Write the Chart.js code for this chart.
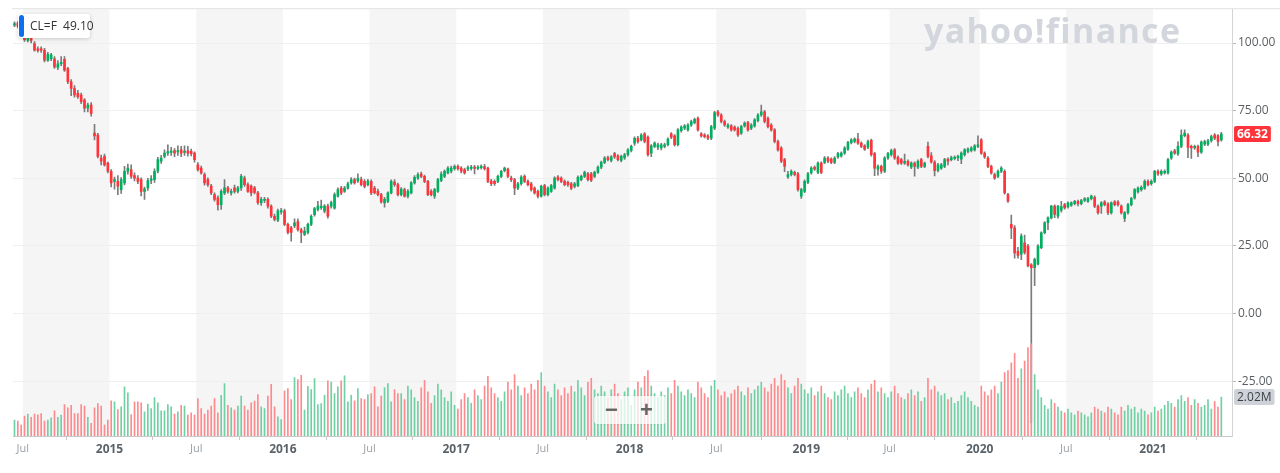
<!DOCTYPE html>
<html lang="en">
<head>
<meta charset="UTF-8" />
<title>CL=F weekly</title>
<script src="https://cdn.jsdelivr.net/npm/chart.js"></script>
<style>
  body { margin: 0; background: #fff; font-family: "Open Sans", Arial, sans-serif; }
  #wrap { position: relative; width: 1280px; height: 473px; overflow: hidden; }
  #wrap canvas { position: absolute; left: 0; top: 0; }
  .logo { position: absolute; left: 924px; top: 7px; font: 700 34px "Open Sans", sans-serif; color: #d3d7dd; letter-spacing: 1.3px; pointer-events: none; }
  .quote { position: absolute; left: 18px; top: 14px; width: 72px; height: 24px; background: #fff; border-radius: 3px;
           box-shadow: 0 1px 4px rgba(0,0,0,0.18); font-size: 12px; color: #333; line-height: 24px; box-sizing: border-box; padding-left: 12px; white-space: nowrap; }
  .quote::before { content: ""; position: absolute; left: 1px; top: 1px; width: 5px; height: 22px; background: #0f6ef0; border-radius: 3px; }
  .zoom { position: absolute; left: 594px; top: 396px; width: 72px; height: 28px; background: rgba(255,255,255,0.75); border-radius: 3px;
          box-shadow: 0 0 3px rgba(0,0,0,0.08); color: #666; font: 700 22px Arial, sans-serif; line-height: 27px; }
  .zoom span { position: absolute; top: 0; }
</style>
</head>
<body>
<div id="wrap">
  <canvas id="chart" width="1280" height="473"></canvas>
  <div class="logo">yahoo!finance</div>
  <div class="quote">CL=F&nbsp;&nbsp;49.10</div>
  <div class="zoom"><span style="left:11px">&minus;</span><span style="left:46px">+</span></div>
</div>
<script>
  // weekly candles, first week = 16 Jun 2014
  const firstWeek = Date.UTC(2014, 5, 16);
  const WEEK = 7 * 864e5;

  const opens = [
    106.6,107.4,106.0,102.6,101.0,102.2,99.8,97.9,97.9,97.3,
    93.6,94.2,94.2,91.0,92.4,94.0,90.6,85.7,83.2,81.4,
    80.8,78.9,75.9,77.1,66.7,66.0,57.5,58.1,55.6,52.6,
    48.9,48.9,45.8,48.3,52.6,53.2,51.0,50.1,49.5,45.2,
    46.5,49.2,49.5,52.6,56.3,58.1,59.3,59.6,60.3,59.8,
    60.5,59.6,60.2,60.0,59.3,55.0,53.8,51.4,49.5,47.1,
    44.0,42.8,40.3,44.6,46.5,44.6,46.5,45.2,46.5,50.1,
    47.7,47.1,46.5,44.6,40.9,41.8,42.2,39.7,36.0,34.5,
    37.6,38.0,33.0,31.7,32.4,34.0,31.0,29.3,30.0,33.0,
    36.6,38.5,39.2,37.9,39.7,39.7,39.0,43.4,46.4,45.2,
    46.4,48.3,49.5,49.0,49.5,48.9,47.7,48.9,46.4,45.2,
    44.0,40.9,41.5,44.6,48.6,47.7,44.0,45.8,43.4,44.6,
    48.3,50.1,51.6,50.7,48.9,45.2,43.4,45.2,49.2,50.7,
    52.0,52.6,53.6,54.4,53.8,53.2,53.4,53.7,54.2,53.7,
    53.9,54.3,53.8,49.0,48.9,48.9,50.7,52.8,53.4,50.1,
    49.5,46.4,48.0,50.7,48.9,48.0,46.4,45.2,43.4,47.3,
    44.0,45.2,46.4,50.5,50.1,48.9,48.5,48.0,47.0,47.3,
    49.5,50.7,51.7,51.7,50.7,52.2,54.1,55.9,57.7,56.6,
    59.1,58.3,56.6,57.5,58.7,60.3,63.0,64.8,64.2,66.4,
    65.2,59.3,61.8,61.5,61.2,61.8,62.4,66.4,65.7,62.4,
    67.6,68.5,67.9,69.7,70.6,72.2,66.4,66.0,65.7,64.8,
    68.5,74.6,73.4,71.0,68.9,69.4,68.9,68.5,66.7,69.4,
    70.6,68.5,69.4,71.3,73.4,74.6,72.2,69.7,67.9,63.6,
    61.2,56.9,50.5,51.4,52.2,51.7,43.4,45.2,48.5,52.0,
    54.1,52.2,55.6,55.9,57.5,57.1,55.9,57.9,58.3,59.3,
    60.8,63.2,63.6,64.5,63.0,62.0,61.5,64.0,59.1,53.4,
    54.4,52.6,57.5,58.7,60.5,57.8,56.9,55.6,56.3,54.1,
    55.6,54.1,56.9,54.4,61.8,58.3,56.0,52.9,53.8,54.4,
    57.1,56.9,57.4,57.5,57.1,58.7,59.9,60.3,60.5,61.8,
    64.2,59.3,57.5,54.4,51.4,50.7,52.6,52.6,44.0,33.0,
    31.7,23.0,22.0,26.2,25.0,18.0,17.0,18.3,24.4,29.9,
    33.6,35.4,39.7,36.0,38.2,40.3,39.4,40.1,40.6,41.5,
    40.6,41.8,41.5,42.5,43.0,39.7,39.7,41.3,40.6,37.3,
    41.3,41.3,39.7,35.2,37.3,40.3,42.8,45.0,45.8,46.4,
    48.9,48.0,48.9,52.6,51.6,52.0,52.0,57.5,60.2,59.0,
    61.8,65.8,66.0,61.8,61.2,61.8,59.7,62.6,62.6,63.9,
    66.0,65.8,64.2
  ];
  const highs = [
    107.8,107.9,106.5,104.0,102.8,103.0,100.5,98.6,98.6,98.0,
    96.6,96.2,95.0,93.5,95.0,95.0,91.0,86.5,84.3,82.5,
    81.5,79.5,77.8,78.0,70.0,66.6,58.6,59.0,56.0,53.2,
    50.5,51.0,50.3,54.4,55.3,55.0,52.0,51.0,50.2,46.8,
    50.0,51.0,53.5,57.8,58.5,60.5,62.4,61.5,61.0,62.0,
    61.8,62.0,61.8,60.8,59.8,55.8,54.5,52.0,50.2,47.8,
    44.6,43.5,45.8,49.5,47.0,46.0,47.5,47.0,51.5,50.8,
    48.3,47.6,47.0,45.2,43.0,43.0,42.8,40.2,36.8,38.6,
    38.9,38.6,33.5,32.3,35.0,35.0,31.6,32.0,33.5,36.5,
    39.3,41.5,42.0,40.3,40.5,41.6,44.6,46.5,47.0,47.0,
    48.6,50.3,50.1,51.7,50.5,49.5,49.6,49.4,47.0,46.0,
    44.5,43.0,45.0,49.4,49.5,48.2,46.6,46.4,45.8,48.8,
    51.0,52.0,52.3,51.2,49.3,45.8,46.3,50.0,52.4,53.1,
    54.3,54.5,55.0,55.0,54.3,53.8,54.6,54.8,54.8,54.7,
    55.0,55.2,54.2,49.6,49.4,51.2,53.0,54.2,53.8,50.8,
    50.0,48.5,51.0,51.3,49.4,48.5,46.9,45.7,47.5,47.8,
    46.9,47.8,50.6,51.0,50.6,49.4,49.0,48.5,48.5,50.9,
    51.2,52.7,52.2,52.2,52.7,54.6,56.4,58.0,58.2,58.4,
    59.6,58.8,58.6,59.2,61.0,62.3,65.3,65.5,66.5,66.9,
    65.7,62.5,63.5,63.0,62.9,63.0,65.0,66.9,66.2,68.4,
    69.4,69.9,70.2,71.5,72.3,72.7,66.9,66.5,66.2,69.6,
    74.8,75.1,73.9,71.5,70.2,69.9,69.4,69.0,69.6,70.9,
    71.1,70.2,72.1,73.9,77.1,75.1,72.7,70.2,68.4,64.1,
    61.7,57.4,52.6,53.1,52.7,52.2,46.3,49.4,52.2,54.3,
    54.6,56.1,56.1,58.0,58.0,57.6,58.0,59.6,59.8,61.7,
    63.7,64.7,65.0,66.6,63.5,62.5,64.1,64.5,59.6,55.0,
    54.9,58.0,59.6,60.8,61.0,58.3,57.4,59.0,56.8,56.1,
    56.1,56.8,57.4,56.0,63.4,59.5,56.6,55.5,55.5,57.4,
    57.6,58.2,58.3,58.6,59.8,61.0,61.3,61.7,62.5,65.7,
    64.7,59.8,58.0,54.9,51.9,53.1,54.3,53.1,44.5,36.4,
    32.5,24.5,29.5,29.0,25.6,18.5,20.5,25.5,30.2,34.0,
    35.8,40.0,40.2,40.0,41.5,40.8,41.3,41.3,41.9,42.0,
    42.2,42.9,43.0,43.8,43.5,40.2,41.4,41.8,41.0,41.3,
    41.8,41.8,40.2,37.7,40.8,43.0,46.2,46.9,47.2,49.4,
    49.4,49.4,53.0,53.1,53.1,53.1,57.4,60.2,60.7,63.5,
    67.9,67.9,66.5,62.3,62.3,62.3,63.9,64.1,64.4,66.0,
    66.5,66.2,67.0
  ];
  const lows = [
    106.0,105.6,103.4,100.6,100.4,100.0,97.0,96.6,96.5,93.0,
    93.2,93.5,90.6,90.2,91.6,89.5,85.0,80.5,80.0,79.5,
    77.6,74.5,74.5,73.0,64.2,57.5,55.0,54.5,52.0,46.8,
    46.0,44.0,44.4,47.6,51.5,50.0,49.0,48.0,43.5,42.2,
    45.5,48.0,48.5,52.0,55.5,57.5,58.5,58.5,58.0,58.5,
    58.0,58.5,58.2,58.3,56.0,52.6,51.5,47.5,47.0,44.0,
    41.6,38.2,38.5,44.0,44.5,43.8,44.5,44.6,45.5,47.0,
    44.8,43.5,44.2,40.4,40.0,41.0,39.0,35.5,34.3,34.0,
    36.8,32.5,29.5,26.8,31.8,30.5,26.2,28.8,29.5,32.5,
    36.0,38.0,38.5,37.2,35.3,39.0,38.6,43.0,44.0,44.8,
    46.0,47.8,47.8,48.5,47.2,46.5,47.2,44.0,44.2,43.5,
    40.8,39.3,41.0,44.2,47.0,43.5,43.5,43.0,42.8,44.2,
    47.8,49.6,50.2,48.4,43.6,43.5,42.6,44.8,48.8,50.2,
    51.6,52.0,53.0,53.0,52.0,51.5,52.8,53.0,51.6,53.2,
    53.4,53.0,48.4,47.3,47.4,48.4,50.2,52.4,50.2,48.8,
    44.0,45.8,47.5,48.4,47.2,45.3,44.1,42.8,43.0,43.5,
    43.5,44.8,46.0,49.0,48.4,47.2,47.0,45.8,46.5,46.9,
    49.0,50.2,49.0,48.8,50.2,51.8,53.6,55.4,56.4,56.1,
    57.4,56.4,56.1,57.0,58.2,59.8,62.2,63.0,63.8,63.1,
    58.2,58.0,61.3,60.6,60.5,61.2,62.0,64.7,61.9,62.0,
    67.1,68.0,67.4,69.2,70.1,67.4,65.2,64.9,64.3,64.3,
    68.0,72.9,70.5,69.2,68.4,67.4,67.4,65.5,66.2,68.9,
    67.4,68.0,68.9,70.8,72.9,70.5,68.6,67.4,63.1,60.0,
    55.8,52.5,50.0,50.9,50.9,45.3,42.6,44.7,48.0,51.5,
    52.9,51.7,51.7,55.4,55.8,55.4,55.4,57.4,57.8,58.8,
    60.3,62.7,63.1,62.5,61.3,60.3,61.0,58.2,51.0,51.2,
    51.8,52.1,57.0,58.2,57.0,55.1,55.1,55.1,54.5,53.6,
    50.8,53.6,53.9,53.9,57.5,55.6,50.9,52.4,53.3,53.9,
    55.0,56.4,56.8,56.5,55.4,58.2,59.4,59.8,60.0,61.3,
    58.8,57.4,53.9,51.5,49.6,50.2,52.1,44.1,41.1,27.7,
    20.5,20.5,19.9,22.0,17.3,-40.3,10.3,18.0,24.0,29.5,
    31.0,35.0,35.5,35.3,37.5,38.6,39.0,39.6,40.2,39.8,
    40.2,41.4,41.1,42.0,39.2,36.8,37.0,39.8,36.6,36.8,
    39.8,39.7,36.8,34.0,36.8,39.8,42.3,44.5,45.3,45.9,
    47.2,47.5,48.4,51.1,51.1,51.5,51.5,57.0,58.8,58.5,
    61.3,65.3,57.6,57.4,60.7,58.0,59.2,62.1,62.1,63.4,
    64.3,62.0,63.7
  ];
  const closes = [
    107.2,106.2,104.0,101.2,101.8,101.0,97.4,97.3,97.4,93.7,
    95.8,95.6,91.2,92.3,92.9,90.0,85.7,83.2,80.8,80.2,
    78.3,75.9,77.1,74.0,65.7,58.1,56.3,55.0,52.6,48.3,
    49.5,47.1,49.5,52.6,53.8,50.7,50.1,48.9,45.2,46.1,
    49.2,49.8,52.6,56.9,57.5,59.3,59.9,60.1,59.3,60.3,
    59.3,60.1,59.3,59.1,56.9,53.2,52.0,48.3,47.7,44.6,
    42.2,40.3,45.2,46.5,45.2,45.2,45.2,46.5,50.7,47.7,
    45.2,44.6,44.8,41.0,42.2,42.2,39.7,36.0,34.8,38.0,
    38.1,33.0,30.0,30.0,33.6,31.0,30.0,30.5,33.0,36.0,
    38.8,39.7,39.7,39.7,36.0,41.0,44.0,45.8,44.6,46.4,
    48.0,49.5,48.3,50.0,47.7,47.0,49.0,44.6,44.6,44.0,
    41.3,42.2,44.6,48.9,47.7,44.0,46.0,43.4,45.2,48.3,
    50.4,51.4,50.7,48.9,44.0,44.0,45.8,49.5,51.6,52.6,
    53.8,53.8,54.4,53.6,52.6,52.0,54.0,54.2,53.7,54.2,
    54.4,53.6,48.9,48.0,48.0,50.7,52.6,53.8,50.7,49.5,
    46.4,48.0,50.5,48.9,47.7,45.8,44.6,43.4,47.0,44.0,
    46.4,47.3,50.1,49.5,48.9,47.7,47.7,46.4,48.0,50.4,
    50.7,52.2,49.5,49.3,52.2,54.1,55.9,57.5,56.9,57.9,
    57.9,56.9,58.1,58.7,60.5,61.8,64.8,63.6,66.0,63.6,
    58.7,62.0,63.0,62.4,62.4,62.4,64.5,65.2,62.4,67.9,
    68.9,69.4,69.7,71.0,71.8,67.9,65.7,65.4,64.8,69.1,
    74.3,73.4,71.0,69.7,69.7,67.9,67.9,66.0,69.1,70.4,
    67.9,69.7,71.6,73.4,74.6,71.0,69.1,67.9,63.6,60.5,
    56.3,54.4,51.4,52.6,51.4,45.8,45.8,48.9,51.7,53.8,
    53.4,55.6,52.2,57.5,56.3,55.9,57.5,59.1,59.3,61.2,
    63.2,64.2,64.5,63.0,61.8,60.8,63.6,58.7,53.8,54.4,
    52.6,57.5,59.1,60.3,57.5,55.6,55.6,56.3,55.0,55.6,
    54.4,56.3,54.4,55.6,58.1,56.1,52.8,55.0,55.0,56.9,
    56.3,57.7,57.7,58.1,59.3,60.5,60.8,61.2,62.0,62.4,
    59.3,57.9,54.4,52.0,50.1,52.6,53.8,44.6,41.6,31.7,
    22.4,21.5,28.7,22.6,17.7,17.0,20.1,25.0,29.9,33.6,
    35.4,39.7,36.7,39.7,39.6,39.1,40.9,40.9,41.5,40.6,
    41.8,42.5,42.5,43.4,39.7,37.3,40.9,40.3,37.3,40.9,
    40.3,40.3,37.3,37.3,40.3,42.5,45.8,46.4,46.7,48.9,
    47.7,48.9,52.6,51.6,52.6,52.6,56.9,59.7,59.3,61.8,
    66.0,66.7,61.4,61.2,61.8,59.7,63.4,63.6,63.9,65.4,
    64.8,63.6,66.32
  ];
  // weekly volume, millions of contracts
  const volumes = [
    0.83,0.78,0.57,1.04,1.14,0.97,1.14,1.10,1.17,0.78,
    0.83,0.95,1.31,0.97,1.09,1.64,1.47,1.60,1.17,1.17,
    1.64,1.55,0.97,0.66,1.47,1.69,1.55,0.57,0.83,1.83,
    1.78,1.38,1.52,2.56,2.25,1.12,1.78,1.78,1.73,1.26,
    1.66,1.43,2.00,1.73,1.31,1.31,1.64,1.52,1.14,1.26,
    1.60,1.55,1.09,1.21,1.09,1.95,1.43,1.14,1.35,1.55,
    1.95,1.21,2.12,2.73,1.60,1.47,1.35,1.55,2.07,1.55,
    1.35,1.73,1.81,2.16,1.52,1.43,2.07,2.69,1.52,1.00,
    0.86,2.35,2.47,1.90,3.04,2.94,3.16,1.35,2.59,2.42,
    2.99,1.64,1.69,2.12,2.87,2.81,2.21,2.56,2.87,3.13,
    1.78,2.12,1.83,2.47,1.95,1.90,2.16,2.21,2.56,1.52,
    2.07,2.52,2.73,1.78,2.42,2.21,2.20,1.90,2.60,2.40,
    2.00,1.80,2.50,2.90,2.30,1.70,2.10,2.70,2.40,2.00,
    1.80,2.30,1.60,1.40,1.90,2.20,2.00,1.70,2.40,2.10,
    1.90,2.60,3.10,2.50,2.20,2.00,1.80,2.30,2.80,2.40,
    3.20,2.60,2.10,2.50,2.20,2.70,2.40,2.90,3.30,2.60,
    2.30,2.00,2.70,2.40,2.10,2.50,2.20,2.60,2.30,2.90,
    2.50,2.10,2.80,3.00,2.40,2.20,2.60,2.30,2.00,2.40,
    2.70,2.20,1.90,2.30,2.50,1.60,2.40,2.80,2.50,3.10,
    3.40,2.60,2.20,2.00,2.30,2.10,2.50,2.20,2.90,2.60,
    2.30,2.10,2.40,2.20,2.00,2.80,2.50,2.20,2.00,2.60,
    2.90,2.40,2.10,2.30,2.00,2.20,2.40,2.60,2.30,2.10,
    2.50,2.20,2.40,2.60,2.80,2.50,2.30,2.70,3.00,2.60,
    3.20,2.90,2.50,2.20,2.60,3.00,2.70,2.40,2.20,2.50,
    2.10,2.30,2.60,2.20,2.00,1.90,2.30,2.10,2.40,2.60,
    2.20,2.00,2.30,2.50,2.20,2.00,2.40,2.70,2.90,2.30,
    2.50,2.20,2.00,2.30,2.60,2.20,2.00,1.90,2.20,2.40,
    2.10,2.30,1.80,2.00,3.00,2.40,2.60,2.30,2.10,2.20,
    1.90,2.00,1.70,1.80,2.10,2.30,2.00,1.80,1.60,1.50,
    2.60,2.30,2.10,2.40,2.60,2.20,2.80,3.30,3.40,3.80,
    4.30,3.00,3.50,3.90,4.60,4.80,3.20,2.40,2.00,1.60,
    1.40,1.90,1.70,1.50,1.30,1.20,1.40,1.20,1.10,1.30,
    1.20,1.10,1.00,1.20,1.50,1.40,1.30,1.20,1.50,1.40,
    1.20,1.10,1.50,1.30,1.60,1.40,1.50,1.20,1.40,1.30,
    1.10,1.20,1.50,1.30,1.40,1.60,1.80,1.70,1.50,1.90,
    2.10,1.80,2.00,1.60,1.90,1.70,1.50,1.60,1.90,1.40,
    1.80,1.50,2.02
  ];
  const priceTicks = [-25, 0, 25, 50, 75, 100];
  const tickYears = [2014, 2015, 2016, 2017, 2018, 2019, 2020, 2021];

  const GREEN = '#00b061';
  const RED = '#ff333a';
  const VOL_UP = '#6fd0a3';
  const VOL_DOWN = '#ff8a8e';
  const up = closes.map((c, i) => c >= opens[i]);

  // boundary between the last week of the previous month and the first week starting in month m
  const monthPos = (y, m) => Math.ceil((Date.UTC(y, m, 1) - firstWeek) / WEEK) - 0.5;
  const xTicks = [];
  tickYears.forEach(y => {
    [0, 6].forEach(m => {
      const p = monthPos(y, m);
      if (p > 0 && p < closes.length) xTicks.push({ value: p, text: m === 0 ? String(y) : 'Jul' });
    });
  });

  const backdrop = {
    id: 'backdrop',
    beforeDraw(chart) {
      const { ctx, chartArea: a, scales: { x } } = chart;
      ctx.save();
      ctx.fillStyle = '#f5f5f5';
      tickYears.forEach(y => {
        const x0 = Math.max(x.getPixelForValue(monthPos(y, 6)), a.left);
        const x1 = Math.min(x.getPixelForValue(monthPos(y + 1, 0)), a.right);
        if (x1 > x0) ctx.fillRect(x0, a.top, x1 - x0, a.bottom - a.top);
      });
      ctx.fillStyle = '#dfe2e6';
      ctx.fillRect(a.left - 1, a.top - 1, chart.width - a.left + 1, 1);
      ctx.restore();
    }
  };

  const lastTags = {
    id: 'lastTags',
    afterDraw(chart) {
      const { ctx, scales: { y, yv }, chartArea: a } = chart;
      const tag = (val, text, bg, fg, bold) => {
        ctx.save();
        ctx.font = (bold ? 'bold ' : '') + '12px "Open Sans", Arial, sans-serif';
        const w = ctx.measureText(text).width + 6;
        const cy = Math.round(val);
        ctx.fillStyle = bg;
        ctx.beginPath();
        ctx.roundRect(a.right + 2, cy - 8, w, 16, 2);
        ctx.fill();
        ctx.fillStyle = fg;
        ctx.textBaseline = 'middle';
        ctx.fillText(text, a.right + 5, cy + 0.5);
        ctx.restore();
      };
      const last = closes.length - 1;
      tag(y.getPixelForValue(closes[last]), closes[last].toFixed(2), RED, '#fff', true);
      tag(yv.getPixelForValue(volumes[last]), volumes[last].toFixed(2) + 'M', '#ced2d8', '#3c4146', false);
    }
  };

  new Chart(document.getElementById('chart'), {
    type: 'bar',
    data: {
      datasets: [
        {
          label: 'Body',
          data: closes.map((c, i) => ({ x: i, y: [opens[i], c] })),
          backgroundColor: up.map(u => u ? GREEN : RED),
          barThickness: 2,
          minBarLength: 1,
          grouped: false,
          order: 0
        },
        {
          label: 'Volume',
          data: volumes.map((v, i) => ({ x: i, y: v })),
          yAxisID: 'yv',
          backgroundColor: up.map(u => u ? VOL_UP : VOL_DOWN),
          barThickness: 1,
          grouped: false,
          order: 1
        },
        {
          label: 'Wick',
          data: lows.map((l, i) => ({ x: i, y: [l, highs[i]] })),
          backgroundColor: '#7b7b7b',
          barThickness: 1,
          grouped: false,
          order: 2
        }
      ]
    },
    options: {
      responsive: false,
      animation: false,
      devicePixelRatio: 1,
      layout: { padding: { left: 13, top: 7, right: 0, bottom: 0 } },
      plugins: { legend: { display: false }, tooltip: { enabled: false } },
      scales: {
        x: {
          type: 'linear',
          min: -0.45,
          max: 365.2,
          offset: false,
          afterBuildTicks: s => { s.ticks = xTicks.map(t => ({ value: t.value })); },
          afterFit: s => { s.height = 37; },
          grid: { drawOnChartArea: false, tickLength: 4, tickColor: '#c8c8c8' },
          border: { color: '#c8c8c8' },
          ticks: {
            autoSkip: false,
            maxRotation: 0,
            padding: 2,
            callback: (v, i) => xTicks[i] ? xTicks[i].text : '',
            color: c => xTicks[c.index] && xTicks[c.index].text !== 'Jul' ? '#5b636a' : '#9aa0a6',
            font: c => ({
              family: '"Open Sans", Arial, sans-serif',
              size: xTicks[c.index] && xTicks[c.index].text !== 'Jul' ? 12 : 11,
              weight: xTicks[c.index] && xTicks[c.index].text !== 'Jul' ? 'bold' : 'normal'
            })
          }
        },
        y: {
          position: 'right',
          min: -45.22,
          max: 112.5,
          afterBuildTicks: s => { s.ticks = priceTicks.map(v => ({ value: v })); },
          afterFit: s => { s.width = 48; },
          grid: { color: '#efefef', tickLength: 4, tickColor: '#b8b8b8' },
          border: { color: '#d4d4d4' },
          ticks: {
            padding: 2,
            color: '#5b5f63',
            font: { family: '"Open Sans", Arial, sans-serif', size: 12 },
            callback: v => v.toFixed(2)
          }
        },
        yv: {
          display: false,
          min: 0,
          max: 22.2
        }
      }
    },
    plugins: [backdrop, lastTags]
  });
</script>
</body>
</html>
